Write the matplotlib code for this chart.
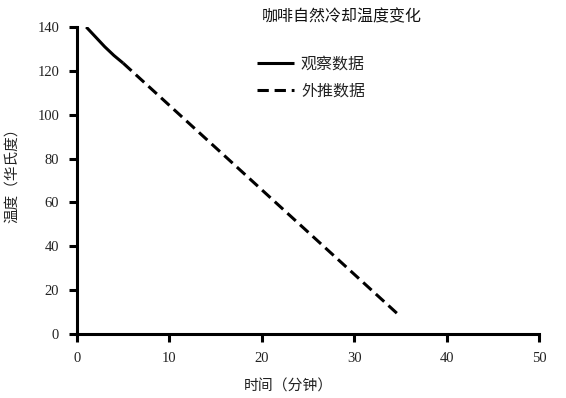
import matplotlib
matplotlib.use("Agg")
import matplotlib.pyplot as plt

# Data
obs_t = [1, 2, 3, 4, 5]
obs_temp = [140, 135.5, 131, 127, 123.5]
ext_t = [5, 35]
ext_temp = [123.5, 8]
x_ticks = [0, 10, 20, 30, 40, 50]
y_ticks = [0, 20, 40, 60, 80, 100, 120, 140]

title = "咖啡自然冷却温度变化"
xlabel = "时间（分钟）"
ylabel = "温度（华氏度）"
labels = ["观察数据", "外推数据"]

cjk = ["Noto Sans CJK SC", "DejaVu Sans"]
serif = "Liberation Serif"

fig = plt.figure(figsize=(5.66, 3.98), dpi=100)
ax = fig.add_axes([77/566, 1-334/398, (539-77)/566, (334-27)/398])

lw = 2.2
ax.plot(obs_t, obs_temp, color="black", lw=lw, solid_capstyle="butt", label=labels[0])
ax.plot(ext_t, ext_temp, color="black", lw=lw, ls=(0, (3.7, 1.9)), dash_capstyle="butt", label=labels[1])

ax.set_xlim(0, 50)
ax.set_ylim(0, 140)
ax.set_xticks(x_ticks)
ax.set_yticks(y_ticks)
for s in ["top", "right"]:
    ax.spines[s].set_visible(False)
for s in ["left", "bottom"]:
    ax.spines[s].set_linewidth(lw)
ax.tick_params(direction="out", length=5.8, width=lw, pad=7)
for lab in ax.get_xticklabels() + ax.get_yticklabels():
    lab.set_fontfamily(serif)
    lab.set_fontsize(10.5)
    lab.set_color("#222222")

fig.text(288/566, 1-387/398, xlabel, family=cjk, fontsize=10.7, ha="center", va="center", color="#222222")
fig.text(12/566, 1-172/398, ylabel, family=cjk, fontsize=10.5, ha="center", va="center", rotation=90, color="#222222")

fig.text(342/566, 1-17/398, title, family=cjk, fontsize=11.5, ha="center", va="center", color="#111111")

leg = ax.legend(loc="upper left", bbox_to_anchor=(257/566, 1-56/398), bbox_transform=fig.transFigure,
                frameon=False, prop={"family": cjk, "size": 11.5}, handlelength=2.3,
                handletextpad=0.45, labelspacing=0.6, borderaxespad=0, borderpad=0)
for t in leg.get_texts():
    t.set_color("#222222")

fig.savefig("out.png", dpi=100)
